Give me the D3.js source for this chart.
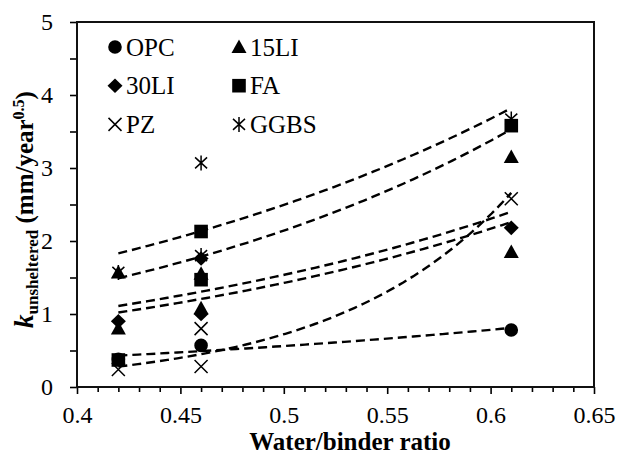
<!DOCTYPE html>
<html>
<head>
<meta charset="utf-8">
<script src="https://cdn.jsdelivr.net/npm/d3@7"></script>
<style>
	body { margin: 0; background: #fff; }
	svg text { font-family: "Liberation Serif", "Times New Roman", serif; fill: #000; }
</style>
</head>
<body>
<svg id="chart" width="618" height="456"></svg>
<script>

// legend order (also drawing order)
const seriesNames = ['OPC', '15LI', '30LI', 'FA', 'PZ', 'GGBS'];
const seriesShapes = ['circle', 'triangle', 'diamond', 'square', 'cross', 'star'];

// water/binder ratio and k_unsheltered per series
const opcWb = [0.42, 0.46, 0.61];
const opcK = [0.38, 0.57, 0.78];
const li15Wb = [0.42, 0.42, 0.46, 0.46, 0.61, 0.61];
const li15K = [1.57, 0.80, 1.55, 1.08, 3.15, 1.85];
const li30Wb = [0.42, 0.46, 0.46, 0.61];
const li30K = [0.90, 1.76, 1.00, 2.18];
const faWb = [0.42, 0.46, 0.46, 0.61];
const faK = [0.37, 2.13, 1.47, 3.58];
const pzWb = [0.42, 0.46, 0.46, 0.61];
const pzK = [0.24, 0.80, 0.28, 2.58];
const ggbsWb = [0.42, 0.46, 0.46, 0.61];
const ggbsK = [1.57, 3.07, 1.80, 3.67];

// exponential trend lines, value at first and last w/b ratio
const trendWb = [0.42, 0.61];
const trendStart = [0.43, 1.11, 1.02, 1.49, 0.28, 1.83];
const trendEnd = [0.81, 2.40, 2.26, 3.53, 2.66, 3.82];

// axis labels
const xTickLabels = ['0.4', '0.45', '0.5', '0.55', '0.6', '0.65'];
const yTickLabels = ['0', '1', '2', '3', '4', '5'];


let margin = {top: 22, right: 24, bottom: 69, left: 77},
	svg = d3.select('#chart'),
	width = 618 - margin.left - margin.right,
	height = 456 - margin.top - margin.bottom;

let xScale = d3.scaleLinear().domain([0.4, 0.65]).range([0, width]),
	yScale = d3.scaleLinear().domain([0, 5]).range([height, 0]);

let chart = svg.append('g')
	.attr('transform', 'translate(' + margin.left + ',' + margin.top + ')');


/**
* path for one marker, centred on 0,0
* @param {string} shape
* @returns {string} path data
*/
function markerPath(shape) {
	let p = d3.path();
	switch (shape) {
		case 'circle':
			p.arc(0, 0, 6.8, 0, 2 * Math.PI);
			break;
		case 'square':
			p.rect(-6.8, -6.8, 13.6, 13.6);
			break;
		case 'triangle':
			p.moveTo(0, -7.5);
			p.lineTo(7.5, 6);
			p.lineTo(-7.5, 6);
			p.closePath();
			break;
		case 'diamond':
			p.moveTo(0, -7.3);
			p.lineTo(7.5, 0);
			p.lineTo(0, 7.3);
			p.lineTo(-7.5, 0);
			p.closePath();
			break;
		case 'cross':
			p.moveTo(-6.5, -6.5); p.lineTo(6.5, 6.5);
			p.moveTo(-6.5, 6.5); p.lineTo(6.5, -6.5);
			break;
		case 'star':
			p.moveTo(-6, -5.5); p.lineTo(6, 5.5);
			p.moveTo(-6, 5.5); p.lineTo(6, -5.5);
			p.moveTo(0, -7.5); p.lineTo(0, 7.5);
			break;
	}
	return p.toString();
}

function isStrokeShape(shape) {
	return shape === 'cross' || shape === 'star';
}

function drawMarker(sel, shape) {
	sel.append('path')
		.attr('d', markerPath(shape))
		.attr('fill', isStrokeShape(shape) ? 'none' : '#000')
		.attr('stroke', isStrokeShape(shape) ? '#000' : 'none')
		.attr('stroke-width', 1.5);
}


// axes: minor ticks every 0.01 / 0.5, labels only on the majors
let xTickValues = d3.range(0, 26).map(i => 0.4 + i * 0.01),
	yTickValues = d3.range(0, 11).map(i => i * 0.5);

let xAxis = d3.axisBottom(xScale)
	.tickValues(xTickValues)
	.tickSize(6)
	.tickPadding(13)
	.tickFormat((d, i) => i % 5 === 0 ? xTickLabels[i / 5] : '');

let yAxis = d3.axisLeft(yScale)
	.tickValues(yTickValues)
	.tickSize(7)
	.tickPadding(17)
	.tickFormat((d, i) => i % 2 === 0 ? yTickLabels[i / 2] : '');

let gx = chart.append('g')
	.attr('transform', 'translate(0,' + height + ')')
	.call(xAxis);

let gy = chart.append('g')
	.call(yAxis);

[gx, gy].forEach(g => {
	g.select('.domain').remove();
	g.selectAll('line').attr('stroke', '#000').attr('stroke-width', 1.6);
	g.selectAll('text')
		.style('font-family', '"Liberation Serif", serif')
		.style('font-size', '24px')
		.attr('fill', '#000');
});

// longer ticks on the labelled values
gx.selectAll('.tick line').attr('y2', (d, i) => i % 5 === 0 ? 7 : 5);

// plot frame
chart.append('rect')
	.attr('width', width)
	.attr('height', height)
	.attr('fill', 'none')
	.attr('stroke', '#111')
	.attr('stroke-width', 2);


// trend lines
let trendLine = d3.line()
	.x(d => xScale(d[0]))
	.y(d => yScale(d[1]));

seriesNames.forEach((name, s) => {
	let x0 = trendWb[0], x1 = trendWb[1],
		y0 = trendStart[s], y1 = trendEnd[s];
	let pts = d3.range(0, 41).map(j => {
		let x = x0 + (x1 - x0) * j / 40;
		return [x, y0 * Math.pow(y1 / y0, (x - x0) / (x1 - x0))];
	});
	chart.append('path')
		.attr('d', trendLine(pts))
		.attr('fill', 'none')
		.attr('stroke', '#000')
		.attr('stroke-width', 2.4)
		.attr('stroke-dasharray', '9,5');
});


// markers
let allWb = [opcWb, li15Wb, li30Wb, faWb, pzWb, ggbsWb],
	allK = [opcK, li15K, li30K, faK, pzK, ggbsK];

seriesNames.forEach((name, s) => {
	let g = chart.append('g').attr('class', 'series series-' + name);
	allWb[s].forEach((wb, i) => {
		let m = g.append('g')
			.attr('transform', 'translate(' + xScale(wb) + ',' + yScale(allK[s][i]) + ')');
		drawMarker(m, seriesShapes[s]);
	});
});


// legend, 3 rows x 2 columns
let legend = chart.append('g');
seriesNames.forEach((name, s) => {
	let col = s % 2,
		row = Math.floor(s / 2);
	let item = legend.append('g')
		.attr('transform', 'translate(' + (38 + col * 124) + ',' + (25 + row * 38.7) + ')');
	drawMarker(item, seriesShapes[s]);
	item.append('text')
		.attr('x', 11)
		.attr('dy', '0.35em')
		.style('font-size', '25px')
		.text(name);
});


// axis titles
svg.append('text')
	.attr('x', 350)
	.attr('y', 450)
	.attr('text-anchor', 'middle')
	.style('font-size', '25px')
	.style('font-weight', 'bold')
	.text('Water/binder ratio');

let yTitle = svg.append('text')
	.attr('transform', 'translate(33,' + (margin.top + height / 2 + 5) + ') rotate(-90)')
	.attr('text-anchor', 'middle')
	.style('font-size', '25px')
	.style('font-weight', 'bold');
yTitle.append('tspan').style('font-style', 'italic').style('font-size', '27px').text('k');
yTitle.append('tspan').attr('dy', 5).style('font-size', '17px').text('unsheltered');
yTitle.append('tspan').attr('dy', -5).text(' (mm/year');
yTitle.append('tspan').attr('dy', -9).style('font-size', '16px').text('0.5');
yTitle.append('tspan').attr('dy', 9).text(')');

</script>
</body>
</html>
